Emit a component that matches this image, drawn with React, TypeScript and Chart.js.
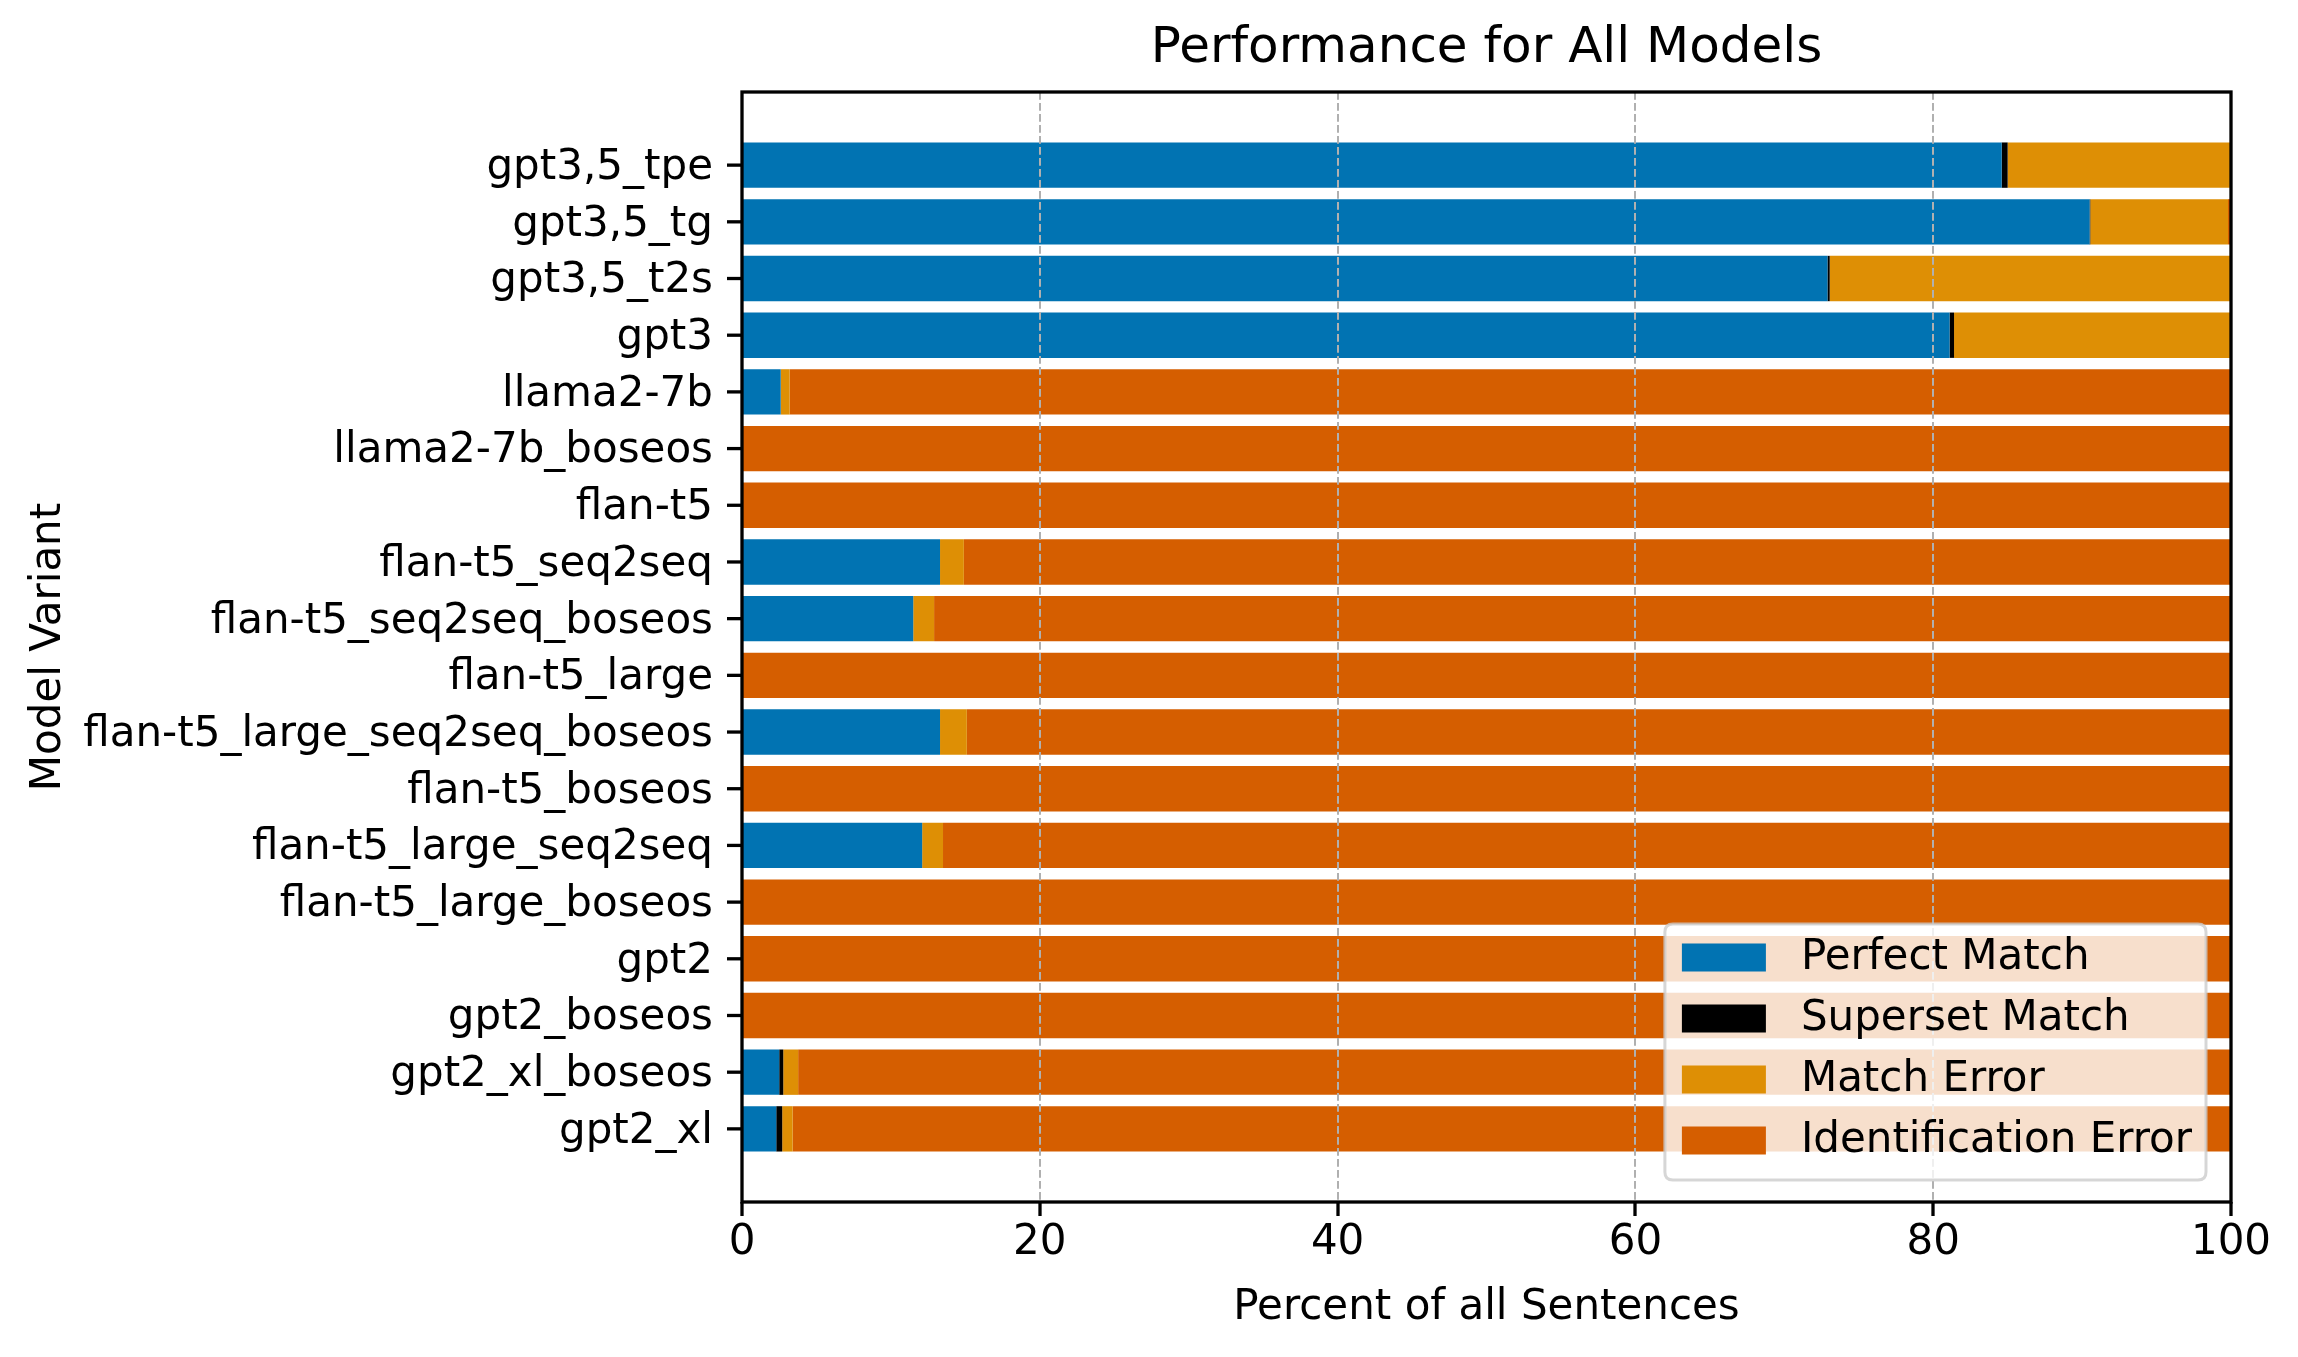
import React, { useEffect, useRef } from 'react';
import { Chart, registerables } from 'chart.js';

Chart.register(...registerables);

// Categories, bottom (index 0) to top
const categories = [
  'gpt2_xl',
  'gpt2_xl_boseos',
  'gpt2_boseos',
  'gpt2',
  'flan-t5_large_boseos',
  'flan-t5_large_seq2seq',
  'flan-t5_boseos',
  'flan-t5_large_seq2seq_boseos',
  'flan-t5_large',
  'flan-t5_seq2seq_boseos',
  'flan-t5_seq2seq',
  'flan-t5',
  'llama2-7b_boseos',
  'llama2-7b',
  'gpt3',
  'gpt3,5_t2s',
  'gpt3,5_tg',
  'gpt3,5_tpe',
];

const perfectMatch = [2.3, 2.5, 0, 0, 0, 12.1, 0, 13.3, 0, 11.5, 13.3, 0, 0, 2.6, 81.1, 72.9, 90.5, 84.6];
const supersetMatch = [0.4, 0.27, 0, 0, 0, 0, 0, 0, 0, 0, 0, 0, 0, 0, 0.3, 0.15, 0.05, 0.4];
const matchError = [0.7, 1.0, 0, 0, 0, 1.4, 0, 1.8, 0, 1.4, 1.6, 0, 0, 0.6, 18.6, 26.95, 9.25, 15.0];
const identificationError = [96.6, 96.23, 100, 100, 100, 86.5, 100, 84.9, 100, 87.1, 85.1, 100, 100, 96.8, 0, 0, 0.2, 0];

const seriesLabels = ['Perfect Match', 'Superset Match', 'Match Error', 'Identification Error'];
const seriesColors = ['#0173b2', '#000000', '#de8f05', '#d55e00'];
const xTicks = [0, 20, 40, 60, 80, 100];
const chartTitle = 'Performance for All Models';

const FONT = "'DejaVu Sans', sans-serif";

const toPoints = (vals: number[]) => vals.map((v, i) => ({ x: v, y: i }));

const mplPlugin = {
  id: 'mplDecor',
  afterDraw(chart: any) {
    const { ctx, chartArea } = chart;
    ctx.save();
    ctx.setLineDash([]);

    // y tick marks
    const ys = chart.scales.y;
    ctx.strokeStyle = '#000';
    ctx.lineWidth = 3.3;
    ys.ticks.forEach((t: any) => {
      const py = ys.getPixelForValue(t.value);
      ctx.beginPath();
      ctx.moveTo(chartArea.left - 15, py);
      ctx.lineTo(chartArea.left, py);
      ctx.stroke();
    });

    // spines
    ctx.strokeRect(chartArea.left, chartArea.top, chartArea.right - chartArea.left, chartArea.bottom - chartArea.top);

    // title
    ctx.font = `50px ${FONT}`;
    ctx.fillStyle = '#000';
    ctx.textAlign = 'center';
    ctx.textBaseline = 'middle';
    ctx.fillText(chartTitle, (chartArea.left + chartArea.right) / 2, 49);

    // legend
    ctx.font = `42px ${FONT}`;
    const items = chart.data.datasets.map((d: any) => ({ label: d.label, color: d.backgroundColor }));
    const maxW = Math.max(...items.map((it: any) => ctx.measureText(it.label).width));
    const rowH = 61;
    const patchW = 84;
    const patchH = 28;
    const right = chartArea.right - 25;
    const bottom = chartArea.bottom - 22;
    const height = 19.5 + rowH * (items.length - 1) + patchH + 25.5;
    const width = 17 + patchW + 35 + maxW + 14;
    const left = right - width;
    const top = bottom - height;
    const r = 8;
    ctx.beginPath();
    ctx.moveTo(left + r, top);
    ctx.lineTo(right - r, top);
    ctx.quadraticCurveTo(right, top, right, top + r);
    ctx.lineTo(right, bottom - r);
    ctx.quadraticCurveTo(right, bottom, right - r, bottom);
    ctx.lineTo(left + r, bottom);
    ctx.quadraticCurveTo(left, bottom, left, bottom - r);
    ctx.lineTo(left, top + r);
    ctx.quadraticCurveTo(left, top, left + r, top);
    ctx.closePath();
    ctx.fillStyle = 'rgba(255,255,255,0.8)';
    ctx.fill();
    ctx.strokeStyle = 'rgba(204,204,204,0.8)';
    ctx.lineWidth = 3;
    ctx.stroke();

    items.forEach((it: any, i: number) => {
      const py = top + 19.5 + i * rowH;
      ctx.fillStyle = it.color;
      ctx.fillRect(left + 17, py, patchW, patchH);
      ctx.fillStyle = '#000';
      ctx.textBaseline = 'middle';
      ctx.textAlign = 'left';
      ctx.fillText(it.label, left + 17 + patchW + 35, py + patchH / 2 + 1);
    });
    ctx.restore();
  },
};

export default function App() {
  const canvasRef = useRef<HTMLCanvasElement | null>(null);

  useEffect(() => {
    if (!canvasRef.current) return;
    const seriesData = [perfectMatch, supersetMatch, matchError, identificationError];
    const chart = new Chart(canvasRef.current, {
      type: 'bar',
      data: {
        datasets: seriesData.map((vals, k) => ({
          label: seriesLabels[k],
          data: toPoints(vals),
          backgroundColor: seriesColors[k],
          borderWidth: 0,
          stack: 'all',
          barPercentage: 0.8,
          categoryPercentage: 1.0,
        })),
      },
      options: {
        indexAxis: 'y',
        responsive: false,
        devicePixelRatio: 1,
        animation: false,
        layout: { padding: { left: 0, right: 67, top: 92, bottom: 0 } },
        plugins: {
          legend: { display: false },
          tooltip: { enabled: false },
          title: { display: false },
        },
        scales: {
          x: {
            type: 'linear',
            stacked: true,
            min: 0,
            max: 100,
            offset: false,
            afterBuildTicks: (scale: any) => {
              scale.ticks = xTicks.map((v) => ({ value: v }));
            },
            afterFit: (scale: any) => {
              scale.height = 155;
            },
            ticks: {
              color: '#000',
              font: { family: FONT, size: 42, lineHeight: 1.2 },
              padding: 2,
              maxRotation: 0,
            },
            grid: {
              z: 1,
              offset: false,
              color: '#b0b0b0',
              lineWidth: 2,
              drawTicks: true,
              tickLength: 14,
              tickWidth: 3.3,
              tickColor: '#000',
            },
            border: { display: false, dash: [7.7, 3.3] },
            title: {
              display: true,
              text: 'Percent of all Sentences',
              color: '#000',
              font: { family: FONT, size: 42, lineHeight: 1.2 },
              padding: { top: 0, bottom: 24 },
            },
          },
          y: {
            type: 'linear',
            min: -1.29,
            max: 18.29,
            offset: false,
            afterBuildTicks: (scale: any) => {
              scale.ticks = categories.map((_, i) => ({ value: i }));
            },
            afterFit: (scale: any) => {
              scale.width = 742;
            },
            ticks: {
              color: '#000',
              autoSkip: false,
              font: { family: FONT, size: 42, lineHeight: 1.2 },
              padding: 29,
              labelOffset: 3,
              callback: (v: any) => categories[Math.round(Number(v))] ?? '',
            },
            grid: {
              offset: false,
              display: false,
              drawOnChartArea: false,
              drawTicks: false,
            },
            border: { display: false },
            title: {
              display: true,
              text: 'Model Variant',
              color: '#000',
              font: { family: FONT, size: 42, lineHeight: 1.2 },
              padding: { top: 24, bottom: 0 },
            },
          },
        },
      },
      plugins: [mplPlugin],
    } as any);
    return () => chart.destroy();
  }, []);

  return (
    <div style={{ position: 'fixed', left: 0, top: 0, width: 2298, height: 1357, background: '#fff' }}>
      <canvas ref={canvasRef} width={2298} height={1357} style={{ width: 2298, height: 1357 }} />
    </div>
  );
}
